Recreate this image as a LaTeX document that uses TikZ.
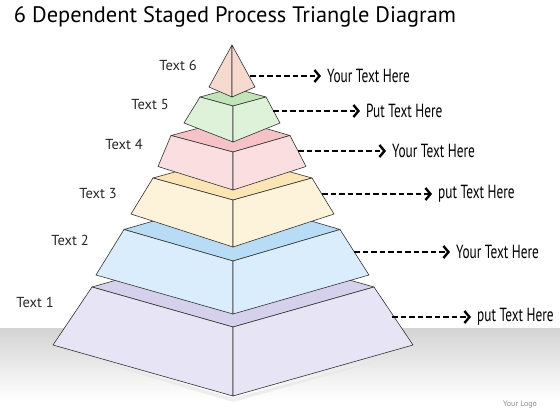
\documentclass[tikz,border=0pt]{standalone}
\usepackage{fontspec}
\setmainfont{PT Sans}
\newfontfamily\narrowfont[FakeStretch=0.70]{PT Sans}
\usepackage{tikz}
\usetikzlibrary{arrows.meta, calc, positioning}

\definecolor{lavside}{HTML}{E7E5F5}
\definecolor{lavtop}{HTML}{D5D1EC}
\definecolor{blueside}{HTML}{DAEDFC}
\definecolor{bluetop}{HTML}{B9DCF6}
\definecolor{creamside}{HTML}{FDF2DA}
\definecolor{creamtop}{HTML}{FBE5B4}
\definecolor{pinkside}{HTML}{FADEE0}
\definecolor{pinktop}{HTML}{F5C3C7}
\definecolor{greenside}{HTML}{DEF1D9}
\definecolor{greentop}{HTML}{C2E4B9}
\definecolor{peachside}{HTML}{F6DAD0}

\begin{document}
\begin{tikzpicture}[x=1pt, y=-1pt, line join=round,
		facet/.style={draw=black!80, line width=0.6pt},
		arrowline/.style={line width=2.8pt, dash pattern=on 5.5pt off 3pt, -{Straight Barb[length=5pt, width=12pt, line width=2.4pt]}, shorten >=6pt},
		lefttext/.style={font=\fontsize{14.5}{16}\selectfont, text=black!85},
		righttext/.style={anchor=west, inner xsep=0pt, font=\narrowfont\fontsize{19}{21}\selectfont}]
		\useasboundingbox (0,0) rectangle (560,420);
		
		% Floor
		\shade[top color=black!17, bottom color=white] (0,328) rectangle (560,400);
		\fill[black!10, opacity=0.6] (60,350) -- (233,402) -- (418,350) -- (233,398) -- cycle;
		
		% Title
		\node (title) at (235,17) {\fontsize{22.4}{25}\selectfont 6 Dependent Staged Process Triangle Diagram};
		
		% Layer 1
		\draw[facet, fill=lavtop] (92,287) -- (233,327) -- (374,287) -- (233,247) -- cycle;
		\draw[facet, fill=lavside] (92,287) -- (233,327) -- (233,396) -- (53,345) -- cycle;
		\draw[facet, fill=lavside] (233,327) -- (374,287) -- (413,345) -- (233,396) -- cycle;
		
		% Layer 2
		\draw[facet, fill=bluetop] (124,229.5) -- (233,261) -- (340,229.5) -- (233,198) -- cycle;
		\draw[facet, fill=blueside] (124,229.5) -- (233,261) -- (233,314) -- (96,275) -- cycle;
		\draw[facet, fill=blueside] (233,261) -- (340,229.5) -- (369,275) -- (233,314) -- cycle;
		
		% Layer 3
		\draw[facet, fill=creamtop] (153,178) -- (233,200) -- (312,178) -- (233,156) -- cycle;
		\draw[facet, fill=creamside] (153,178) -- (233,200) -- (233,247) -- (131,214) -- cycle;
		\draw[facet, fill=creamside] (233,200) -- (312,178) -- (334,214) -- (233,247) -- cycle;
		
		% Layer 4
		\draw[facet, fill=pinktop] (171,135.5) -- (233,152) -- (290,135.5) -- (233,119) -- cycle;
		\draw[facet, fill=pinkside] (171,135.5) -- (233,152) -- (233,190) -- (158,166.5) -- cycle;
		\draw[facet, fill=pinkside] (233,152) -- (290,135.5) -- (306,166.5) -- (233,190) -- cycle;
		
		% Layer 5
		\draw[facet, fill=greentop] (200,97) -- (233,106) -- (266,97) -- (233,88) -- cycle;
		\draw[facet, fill=greenside] (200,97) -- (233,106) -- (233,142) -- (184,123) -- cycle;
		\draw[facet, fill=greenside] (233,106) -- (266,97) -- (280,123) -- (233,142) -- cycle;
		
		% Layer 6 (top)
		\draw[facet, fill=peachside] (232,45) -- (209,87) -- (232,97) -- cycle;
		\draw[facet, fill=peachside] (232,45) -- (232,97) -- (255,87) -- cycle;
		
		% Left labels
		\node[lefttext] (l6) at (178,65) {Text 6};
		\node[lefttext] (l5) at (150,105) {Text 5};
		\node[lefttext] (l4) at (124,144) {Text 4};
		\node[lefttext] (l3) at (98,194) {Text 3};
		\node[lefttext] (l2) at (70,240) {Text 2};
		\node[lefttext] (l1) at (35,302) {Text 1};
		
		% Right labels
		\node[righttext] (r6) at (327,76) {Your Text Here};
		\node[righttext] (r5) at (366,111) {Put Text Here};
		\node[righttext] (r4) at (392,151) {Your Text Here};
		\node[righttext] (r3) at (438,194) {put Text Here};
		\node[righttext] (r2) at (456,252) {Your Text Here};
		\node[righttext] (r1) at (477,317) {put Text Here};
		
		% Arrows
		\coordinate (s6) at (250,76);
		\coordinate (s5) at (273,111);
		\coordinate (s4) at (298,151);
		\coordinate (s3) at (322,194);
		\coordinate (s2) at (354,252);
		\coordinate (s1) at (392,317);
		\draw[arrowline] (s6) -- (r6.west);
		\draw[arrowline] (s5) -- (r5.west);
		\draw[arrowline] (s4) -- (r4.west);
		\draw[arrowline] (s3) -- (r3.west);
		\draw[arrowline] (s2) -- (r2.west);
		\draw[arrowline] (s1) -- (r1.west);
		
		\node[text=black!45, font=\fontsize{8}{9}\selectfont] (logo) at (520,405) {Your Logo};
	\end{tikzpicture}
\end{document}
